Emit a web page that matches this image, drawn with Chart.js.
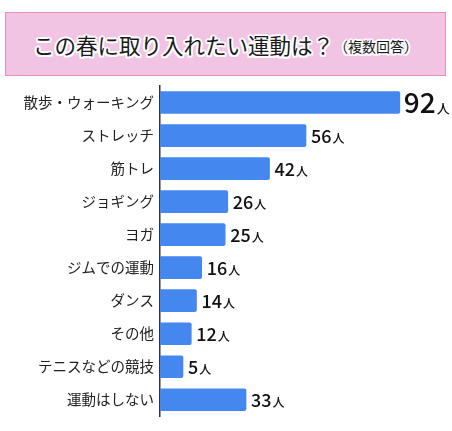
<!DOCTYPE html>
<html>
<head>
<meta charset="utf-8">
<script src="https://cdn.jsdelivr.net/npm/chart.js@4"></script>
<style>
  html, body { margin: 0; padding: 0; background: #fff; }
  #wrap { position: relative; width: 452px; height: 431px; }
  #title {
    position: absolute; left: 5px; top: 12px; width: 439px; height: 62px;
    background: #f2c4e4; border: 1.5px solid #e58fbe;
    display: flex; align-items: center; justify-content: center;
    font-family: "Noto Sans CJK JP", sans-serif; color: #1a1a1a;
    text-shadow: 2px 0 0 #fff, -2px 0 0 #fff, 0 2px 0 #fff, 0 -2px 0 #fff,
      1.5px 1.5px 0 #fff, -1.5px 1.5px 0 #fff, 1.5px -1.5px 0 #fff, -1.5px -1.5px 0 #fff;
  }
  #title .main { font-size: 21.5px; font-weight: 400; }
  #title .sub { font-size: 14px; font-weight: 400; position: relative; top: 2px; }
  canvas { position: absolute; left: 0; top: 0; }
</style>
</head>
<body>
<div id="wrap">
  <canvas id="myChart" width="452" height="431"></canvas>
  <div id="title"><span class="main">この春に取り入れたい運動は？</span><span class="sub">（複数回答）</span></div>
</div>
<script>
const categories = ['散歩・ウォーキング', 'ストレッチ', '筋トレ', 'ジョギング', 'ヨガ', 'ジムでの運動', 'ダンス', 'その他', 'テニスなどの競技', '運動はしない'];
const counts = [92, 56, 42, 26, 25, 16, 14, 12, 5, 33];
const unit = '人';

const font = '"Noto Sans CJK JP", sans-serif';

const valueLabels = {
  id: 'valueLabels',
  afterDatasetsDraw(chart) {
    const ctx = chart.ctx;
    const meta = chart.getDatasetMeta(0);
    ctx.save();
    ctx.fillStyle = '#111';
    ctx.textBaseline = 'alphabetic';
    meta.data.forEach((bar, i) => {
      const big = i === 0;
      const numSize = big ? 28 : 18;
      const unitSize = big ? 13 : 12;
      let x = bar.x + (big ? 4 : 5);
      const y = bar.y + (big ? 10 : 7);
      ctx.font = '500 ' + numSize + 'px ' + font;
      const txt = String(counts[i]);
      ctx.fillText(txt, x, y);
      x += ctx.measureText(txt).width + 1;
      ctx.font = '500 ' + unitSize + 'px ' + font;
      ctx.fillText(unit, x, y);
    });
    ctx.restore();
  }
};

const ctx = document.getElementById('myChart');
const myChart = new Chart(ctx, {
  type: 'bar',
  data: {
    labels: categories,
    datasets: [{
      data: counts,
      backgroundColor: '#4487ee',
      borderRadius: 2,
      borderSkipped: 'start',
      barThickness: 22,
      minBarLength: 23
    }]
  },
  options: {
    indexAxis: 'y',
    responsive: false,
    animation: false,
    events: [],
    layout: { padding: { top: 86, bottom: 5, left: 0, right: 0 } },
    plugins: {
      legend: { display: false },
      tooltip: { enabled: false }
    },
    scales: {
      x: {
        display: false,
        min: 0,
        max: 112
      },
      y: {
        afterFit: (scale) => { scale.width = 160; },
        grid: { display: false, drawTicks: false },
        border: { display: true, color: '#333', width: 1.5 },
        ticks: {
          color: '#222',
          padding: 6,
          font: { family: font, size: 14.5 }
        }
      }
    }
  },
  plugins: [valueLabels]
});
</script>
</body>
</html>
